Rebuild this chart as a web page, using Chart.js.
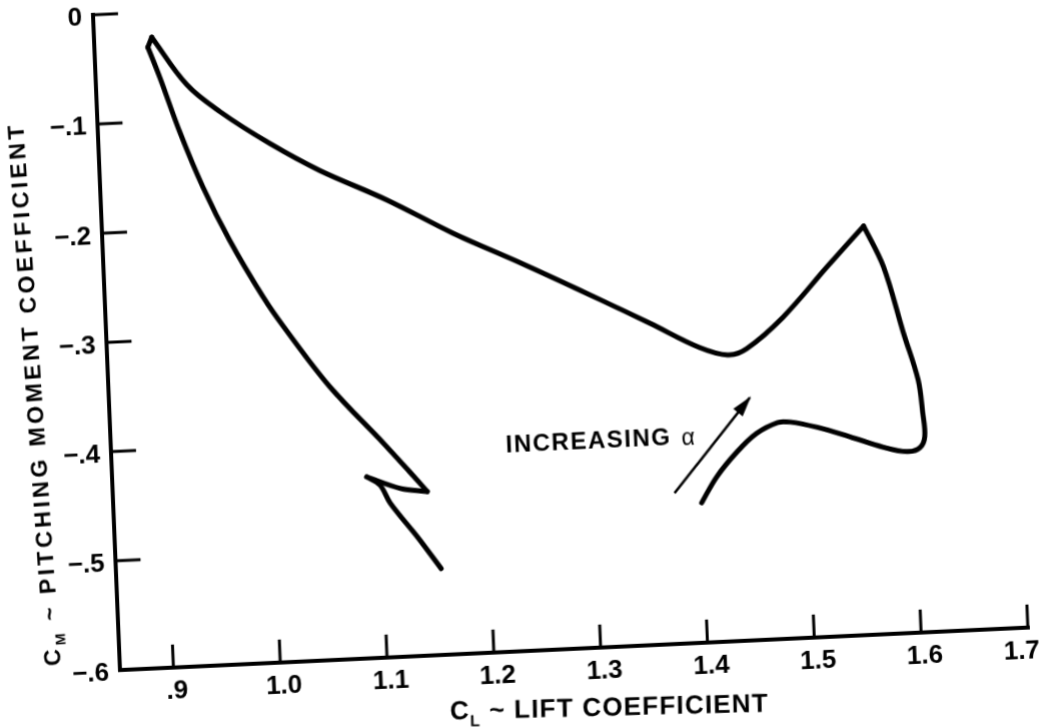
<!DOCTYPE html>
<html><head><meta charset="utf-8">
<script src="https://cdn.jsdelivr.net/npm/chart.js@4.4.0/dist/chart.umd.min.js"></script>
<style>
html,body{margin:0;padding:0;background:#fff;overflow:hidden;width:1043px;height:728px;}
#wrap{position:absolute;left:0;top:0;width:1100px;height:780px;transform-origin:0 0;
transform:matrix(0.99978,-0.04681,0.04122,1.0003,-38.2,-9.1);background:#fff;}
canvas{display:block;}
</style></head><body>
<div id="wrap"><canvas id="c" width="1100" height="780"></canvas></div>
<script>
// ---- data ----
const cl = [1.400,1.415,1.435,1.454,1.474,1.486,1.511,1.541,1.572,1.594,1.606,1.611,1.610,1.607,1.595,1.579,1.562,
            1.526,1.483,1.448,1.430,1.404,1.359,1.313,1.240,1.178,1.118,1.056,1.010,0.965,0.935,0.904,
            0.900,0.910,0.927,0.946,0.969,0.998,1.016,1.057,1.105,1.129,1.144,1.119,1.088,1.100,1.109,1.133,1.154];
const cm = [-0.472,-0.449,-0.427,-0.411,-0.402,-0.402,-0.408,-0.418,-0.429,-0.434,-0.431,-0.421,-0.399,-0.369,-0.325,-0.264,-0.226,
            -0.262,-0.306,-0.333,-0.338,-0.330,-0.306,-0.282,-0.245,-0.215,-0.182,-0.152,-0.125,-0.094,-0.068,-0.023,
            -0.032,-0.060,-0.112,-0.162,-0.212,-0.265,-0.293,-0.350,-0.404,-0.432,-0.450,-0.446,-0.434,-0.442,-0.459,-0.491,-0.521];
// indices of the sharp corners of the curve (peak, hook, zig-zag)
const cornerIdx = [0, 16, 31, 32, 42, 44, cl.length - 1];
const arrowX = [1.375, 1.449];
const arrowY = [-0.462, -0.378];
const noteText = 'INCREASING';
const noteAlpha = 'α';
const notePos = [1.396, -0.412];
const xTicks = [0.9,1.0,1.1,1.2,1.3,1.4,1.5,1.6,1.7];
const xTickLabels = ['.9','1.0','1.1','1.2','1.3','1.4','1.5','1.6','1.7'];
const yTicks = [0,-0.1,-0.2,-0.3,-0.4,-0.5,-0.6];
const yTickLabels = ['0','\u2212.1','\u2212.2','\u2212.3','\u2212.4','\u2212.5','\u2212.6'];
const xRange = [0.85, 1.7];
const yRange = [-0.6, 0];
const xTitle = ['C', 'L', ' ~ LIFT COEFFICIENT'];
const yTitle = ['C', 'M', ' ~ PITCHING MOMENT COEFFICIENT'];

const FONT = "'Liberation Sans', Arial, Helvetica, sans-serif";
Chart.defaults.font.family = FONT;
Chart.defaults.color = '#000';

function drawSubTitle(ctx, parts, cx, cy, angle, size, spacing) {
  ctx.save();
  ctx.translate(cx, cy);
  ctx.rotate(angle);
  ctx.textBaseline = 'alphabetic';
  ctx.textAlign = 'left';
  const specs = [
    {t: parts[0], f: 'bold ' + size + 'px ' + FONT, dy: 0},
    {t: parts[1], f: 'bold ' + Math.round(size * 0.62) + 'px ' + FONT, dy: size * 0.28},
    {t: parts[2], f: 'bold ' + size + 'px ' + FONT, dy: 0}
  ];
  try { ctx.letterSpacing = spacing + 'px'; } catch (e) {}
  let total = 0;
  specs.forEach(s => { ctx.font = s.f; s.w = ctx.measureText(s.t).width; total += s.w; });
  let xp = -total / 2;
  specs.forEach(s => { ctx.font = s.f; ctx.fillText(s.t, xp, size * 0.36 + s.dy); xp += s.w; });
  ctx.restore();
}

const axesPlugin = {
  id: 'axesPlugin',
  afterDraw(chart) {
    const {ctx, scales: {x, y}} = chart;
    const lx = x.getPixelForValue(xRange[0]), rx = x.getPixelForValue(xRange[1]);
    const by = y.getPixelForValue(yRange[0]), ty = y.getPixelForValue(yRange[1]);
    ctx.save();
    ctx.strokeStyle = '#000'; ctx.fillStyle = '#000';
    ctx.lineWidth = 4; ctx.lineCap = 'square'; ctx.lineJoin = 'miter';
    ctx.beginPath();
    ctx.moveTo(lx, ty); ctx.lineTo(lx, by); ctx.lineTo(rx, by);
    ctx.stroke();
    ctx.lineWidth = 3; ctx.lineCap = 'butt';
    xTicks.forEach(v => {
      const px = x.getPixelForValue(v);
      ctx.beginPath(); ctx.moveTo(px, by); ctx.lineTo(px, by - 23); ctx.stroke();
    });
    yTicks.forEach(v => {
      if (v === yRange[0]) return;
      const py = y.getPixelForValue(v);
      ctx.beginPath(); ctx.moveTo(lx, py); ctx.lineTo(lx + 25, py); ctx.stroke();
    });
    // x tick labels
    ctx.font = 'bold 26px ' + FONT;
    ctx.textAlign = 'center'; ctx.textBaseline = 'top';
    xTicks.forEach((v, i) => {
      const px = x.getPixelForValue(v) + (i === xTicks.length - 1 ? -7 : 3);
      ctx.fillText(xTickLabels[i], px, by + 11);
    });
    // arrow head
    const x1 = x.getPixelForValue(arrowX[0]), y1 = y.getPixelForValue(arrowY[0]);
    const x2 = x.getPixelForValue(arrowX[1]), y2 = y.getPixelForValue(arrowY[1]);
    const ang = Math.atan2(y2 - y1, x2 - x1);
    ctx.save();
    ctx.translate(x2, y2); ctx.rotate(ang);
    ctx.beginPath(); ctx.moveTo(2, 0); ctx.lineTo(-19, -6); ctx.lineTo(-19, 6); ctx.closePath(); ctx.fill();
    ctx.restore();
    // annotation
    const nx = x.getPixelForValue(notePos[0]), ny = y.getPixelForValue(notePos[1]);
    ctx.textBaseline = 'middle'; ctx.textAlign = 'right';
    ctx.font = '23px ' + FONT;
    const aw = ctx.measureText(noteAlpha).width;
    ctx.fillText(noteAlpha, nx, ny + 1);
    ctx.font = 'bold 24px ' + FONT;
    try { ctx.letterSpacing = '1.5px'; } catch (e) {}
    ctx.fillText(noteText, nx - aw - 10, ny);
    try { ctx.letterSpacing = '0px'; } catch (e) {}
    ctx.restore();
    // axis titles
    drawSubTitle(ctx, yTitle, lx - 75, (ty + by) / 2 + 48, -Math.PI / 2 - 0.028, 23, 3.5);
    drawSubTitle(ctx, xTitle, (lx + rx) / 2 + 33, by + 59, 0.022, 26, 1.2);
  }
};

const curveSets = [];
for (let k = 0; k < cornerIdx.length - 1; k++) {
  const pts = [];
  for (let i = cornerIdx[k]; i <= cornerIdx[k + 1]; i++) pts.push({x: cl[i], y: cm[i]});
  curveSets.push({
    data: pts, showLine: true, borderColor: '#000', borderWidth: 5, tension: 0.35,
    pointRadius: 0, borderJoinStyle: 'round', borderCapStyle: 'round', fill: false
  });
}

new Chart(document.getElementById('c'), {
  type: 'scatter',
  data: {
    datasets: curveSets.concat([
      {
        data: arrowX.map((v, i) => ({x: v, y: arrowY[i]})),
        showLine: true, borderColor: '#000', borderWidth: 2.5, tension: 0,
        pointRadius: 0, fill: false
      }
    ])
  },
  options: {
    responsive: false, animation: false, devicePixelRatio: 1,
    layout: {padding: {left: 0, top: 30, right: 62, bottom: 0}},
    plugins: {legend: {display: false}, tooltip: {enabled: false}, title: {display: false}},
    scales: {
      x: {
        type: 'linear', min: xRange[0], max: xRange[1],
        grid: {display: false, drawTicks: false}, border: {display: false},
        afterBuildTicks: s => { s.ticks = xTicks.map(v => ({value: v})); },
        afterFit: s => { s.height = 95; },
        ticks: {display: false}
      },
      y: {
        type: 'linear', min: yRange[0], max: yRange[1],
        grid: {display: false, drawTicks: false}, border: {display: false},
        afterBuildTicks: s => { s.ticks = yTicks.map(v => ({value: v})); },
        afterFit: s => { s.width = 130; },
        ticks: {
          padding: 11, labelOffset: 3, autoSkip: false,
          font: {size: 26, weight: 'bold'}, color: '#000',
          callback: v => { const i = yTicks.findIndex(t => Math.abs(t - v) < 1e-6); return i >= 0 ? yTickLabels[i] : ''; }
        }
      }
    }
  },
  plugins: [axesPlugin]
});
</script>
</body></html>
